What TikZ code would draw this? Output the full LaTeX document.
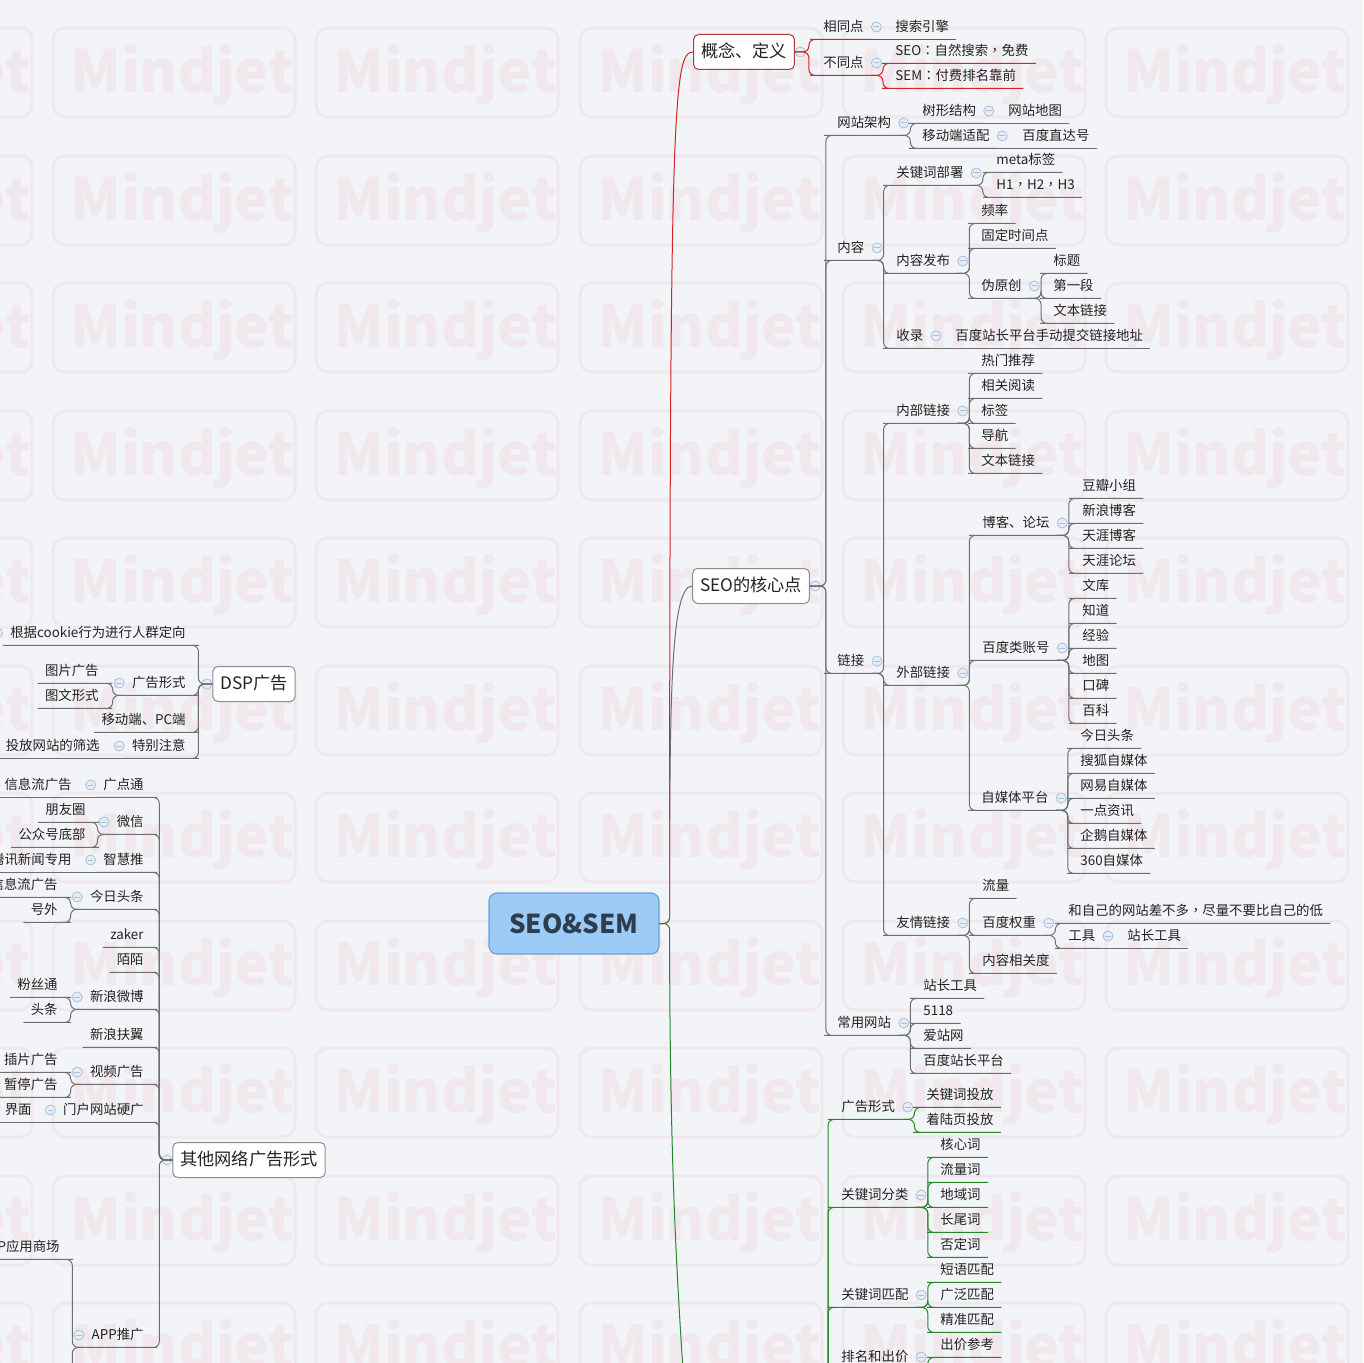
\documentclass[tikz,border=0pt]{standalone}
\usepackage{fontspec}
\setmainfont{Noto Sans CJK SC}
\newfontfamily\tcpunct{Noto Sans CJK TC}
\definecolor{bgc}{HTML}{F3F4F7}
\definecolor{wmc}{HTML}{F0E8EC}
\definecolor{txtc}{HTML}{222222}
\definecolor{linec}{HTML}{6F6F6F}
\definecolor{redc}{HTML}{D42424}
\definecolor{greenc}{HTML}{23882A}
\definecolor{boxc}{HTML}{8E8E8E}
\definecolor{kzc}{HTML}{A83A3A}
\definecolor{foldc}{HTML}{A9BFD8}
\definecolor{foldf}{HTML}{E6EDF6}
\definecolor{rootf}{HTML}{9CCBF6}
\definecolor{rootb}{HTML}{6E9FD2}
\definecolor{roott}{HTML}{2D3E4E}
\newcommand\tpfont{\fontsize{6.7}{8}\selectfont}
\newcommand\boxfont{\fontsize{8.6}{10}\selectfont}
\newcommand\cm{{\tcpunct ，}}
\newcommand\cl{{\tcpunct ：}}

\begin{document}
\begin{tikzpicture}[
  x=0.5pt, y=-0.5pt,
  tp/.style={font=\tpfont, text=txtc, inner xsep=3.5pt, inner ysep=0pt, minimum height=12pt, text height=5.4pt, text depth=1.2pt},
  fold/.style={circle, draw=foldc, fill=foldf, line width=0.4pt, inner sep=0pt, minimum size=5pt,
    path picture={\draw[foldc, line width=0.5pt] ([xshift=1.1pt]path picture bounding box.west) -- ([xshift=-1.1pt]path picture bounding box.east);}},
  hub/.style={tp, label={[fold]east:{}}},
  hubL/.style={tp, label={[fold]west:{}}},
  box/.style={draw=boxc, fill=white, rounded corners=2.5pt, line width=0.5pt, font=\boxfont, text=txtc, inner xsep=3.7pt, minimum height=17.5pt, text height=6.8pt, text depth=1.6pt},
  boxR/.style={box, label={[fold]east:{}}},
  boxL/.style={box, label={[fold]west:{}}},
  root/.style={draw=rootb, fill=rootf, rounded corners=4pt, line width=0.6pt, minimum width=85pt, minimum height=30.5pt, font=\fontsize{13}{15}\selectfont\bfseries, text=roott},
  gr/.style={draw=linec, line width=0.5pt, rounded corners=3pt},
  rd/.style={gr, draw=redc},
  gn/.style={gr, draw=greenc},
  wm/.style={draw=wmc, line width=1.5pt},
  wmtext/.style={text=wmc, font=\fontsize{29}{30}\selectfont\bfseries, inner sep=0pt}
]
\useasboundingbox (0,0) rectangle (1363,1363);
\clip (0,0) rectangle (1363,1363);
\fill[bgc] (0,0) rectangle (1363,1363);

% watermark tiles
\foreach \cx [count=\i] in {-193,70,333,597,860,1123}
  \foreach \cy [count=\j] in {75,203,330,458,585,713,840,968,1095,1223,1350} {
    \draw[wm, rounded corners=6pt] (\cx-17,\cy-47) rectangle (\cx+225,\cy+42);
    \node[wmtext, anchor=west] (wm\i-\j) at (\cx,\cy) {Mindjet};
  }

% centre
\node[root] (root) at (574,923.5) {SEO\&SEM};
\coordinate (sem) at (688,1480);
\coordinate (semhub) at (812,1480);

% concept branch
\node[boxR, draw=kzc] (kz) at (744,52) {概念、定义};
\node[hub, anchor=west] (xtd) at (816,27) {相同点};
\node[tp, anchor=west] (ssyq) at (888,27) {搜索引擎};
\node[hub, anchor=west] (btd) at (816,63) {不同点};
\node[tp, anchor=west] (zrss) at (888,51) {SEO\cl 自然搜索\cm 免费};
\node[tp, anchor=west] (ffpm) at (888,76) {SEM\cl 付费排名靠前};

% SEO core branch
\node[boxR] (hx) at (751,586) {SEO的核心点};
\node[hub, anchor=west] (wzjg) at (830,123) {网站架构};
\node[hub, anchor=west] (sxjg) at (915,111) {树形结构};
\node[tp, anchor=west] (wzdt) at (1001,111) {网站地图};
\node[hub, anchor=west] (yddsp) at (915,136) {移动端适配};
\node[tp, anchor=west] (zdh) at (1015,136) {百度直达号};
\node[hub, anchor=west] (nr) at (830,248) {内容};
\node[hub, anchor=west] (gjcbs) at (889,173) {关键词部署};
\node[tp, anchor=west] (meta) at (989,160) {meta标签};
\node[tp, anchor=west] (hhh) at (989,185) {H1\cm H2\cm H3};
\node[hub, anchor=west] (nrfb) at (889,261) {内容发布};
\node[tp, anchor=west] (pl) at (974,211) {频率};
\node[tp, anchor=west] (gdsj) at (974,236) {固定时间点};
\node[hub, anchor=west] (wyc) at (974,286) {伪原创};
\node[tp, anchor=west] (bt) at (1046,261) {标题};
\node[tp, anchor=west] (dyd) at (1046,286) {第一段};
\node[tp, anchor=west] (wblja) at (1046,311) {文本链接};
\node[hub, anchor=west] (sl) at (889,336) {收录};
\node[tp, anchor=west] (sdtj) at (948,336) {百度站长平台手动提交链接地址};
\node[hub, anchor=west] (lj) at (830,661) {链接};
\node[hub, anchor=west] (nblj) at (889,411) {内部链接};
\node[tp, anchor=west] (rmtj) at (974,361) {热门推荐};
\node[tp, anchor=west] (xgyd) at (974,386) {相关阅读};
\node[tp, anchor=west] (bq) at (974,411) {标签};
\node[tp, anchor=west] (dh) at (974,436) {导航};
\node[tp, anchor=west] (wbljb) at (974,461) {文本链接};
\node[hub, anchor=west] (wblj) at (889,673) {外部链接};
\node[hub, anchor=west] (bklt) at (975,523) {博客、论坛};
\node[tp, anchor=west] (dbxz) at (1075,486) {豆瓣小组};
\node[tp, anchor=west] (xlbk) at (1075,511) {新浪博客};
\node[tp, anchor=west] (tybk) at (1075,536) {天涯博客};
\node[tp, anchor=west] (tylt) at (1075,561) {天涯论坛};
\node[hub, anchor=west] (bdzh) at (975,648) {百度类账号};
\node[tp, anchor=west] (wk) at (1075,586) {文库};
\node[tp, anchor=west] (zd) at (1075,611) {知道};
\node[tp, anchor=west] (jy) at (1075,636) {经验};
\node[tp, anchor=west] (dt) at (1075,661) {地图};
\node[tp, anchor=west] (kb) at (1075,686) {口碑};
\node[tp, anchor=west] (bk) at (1075,711) {百科};
\node[hub, anchor=west] (zmt) at (974,798) {自媒体平台};
\node[tp, anchor=west] (jrtt) at (1073,736) {今日头条};
\node[tp, anchor=west] (shzm) at (1073,761) {搜狐自媒体};
\node[tp, anchor=west] (wyzm) at (1073,786) {网易自媒体};
\node[tp, anchor=west] (ydzx) at (1073,811) {一点资讯};
\node[tp, anchor=west] (qezm) at (1073,836) {企鹅自媒体};
\node[tp, anchor=west] (zm360) at (1073,861) {360自媒体};
\node[hub, anchor=west] (yqlj) at (889,923) {友情链接};
\node[tp, anchor=west] (ll) at (975,886) {流量};
\node[hub, anchor=west] (bdqz) at (975,923) {百度权重};
\node[tp, anchor=west] (cbd) at (1061,911) {和自己的网站差不多\cm 尽量不要比自己的低};
\node[hub, anchor=west] (gj) at (1061,936) {工具};
\node[tp, anchor=west] (zzgja) at (1120,936) {站长工具};
\node[tp, anchor=west] (nrxg) at (975,961) {内容相关度};
\node[hub, anchor=west] (cywz) at (830,1023) {常用网站};
\node[tp, anchor=west] (zzgjb) at (916,986) {站长工具};
\node[tp, anchor=west] (w5118) at (916,1011) {5118};
\node[tp, anchor=west] (azw) at (916,1036) {爱站网};
\node[tp, anchor=west] (zzpt) at (916,1061) {百度站长平台};

% SEM branch
\node[hub, anchor=west] (ggxs) at (834,1107) {广告形式};
\node[tp, anchor=west] (gjctf) at (919,1095) {关键词投放};
\node[tp, anchor=west] (zlytf) at (919,1120) {着陆页投放};
\node[hub, anchor=west] (gjcfl) at (834,1195) {关键词分类};
\node[tp, anchor=west] (hxc) at (933,1145) {核心词};
\node[tp, anchor=west] (llc) at (933,1170) {流量词};
\node[tp, anchor=west] (dyc) at (933,1195) {地域词};
\node[tp, anchor=west] (cwc) at (933,1220) {长尾词};
\node[tp, anchor=west] (fdc) at (933,1245) {否定词};
\node[hub, anchor=west] (gjcpp) at (834,1295) {关键词匹配};
\node[tp, anchor=west] (dypp) at (933,1270) {短语匹配};
\node[tp, anchor=west] (gfpp) at (933,1295) {广泛匹配};
\node[tp, anchor=west] (jzpp) at (933,1320) {精准匹配};
\node[hub, anchor=west] (pmcj) at (834,1357) {排名和出价};
\node[tp, anchor=west] (cjck) at (933,1345) {出价参考};

% DSP branch
\node[boxL] (dsp) at (254,684) {DSP广告};
\node[hubL, anchor=east] (cookie) at (193,633) {根据cookie行为进行人群定向};
\node[hubL, anchor=east] (ggxsl) at (193,683) {广告形式};
\node[tp, anchor=east] (tpgg) at (106,671) {图片广告};
\node[tp, anchor=east] (twxs) at (106,696) {图文形式};
\node[tp, anchor=east] (ydpc) at (193,720) {移动端、PC端};
\node[hubL, anchor=east] (tbzy) at (193,746) {特别注意};
\node[tp, anchor=east] (tfsx) at (107,746) {投放网站的筛选};

% other ads branch
\node[boxL] (qt) at (249,1160) {其他网络广告形式};
\node[hubL, anchor=east] (gdt) at (151,785) {广点通};
\node[tp, anchor=east] (xxlg) at (79,785) {信息流广告};
\node[hubL, anchor=east] (wx) at (151,822) {微信};
\node[tp, anchor=east] (pyq) at (93,810) {朋友圈};
\node[tp, anchor=east] (gzh) at (93,835) {公众号底部};
\node[hubL, anchor=east] (zht) at (151,860) {智慧推};
\node[tp, anchor=east] (txxw) at (79,860) {腾讯新闻专用};
\node[hubL, anchor=east] (jrtl) at (151,897) {今日头条};
\node[tp, anchor=east] (xxlgb) at (65,885) {信息流广告};
\node[tp, anchor=east] (hw) at (65,910) {号外};
\node[tp, anchor=east] (zaker) at (151,935) {zaker};
\node[tp, anchor=east] (mm) at (151,960) {陌陌};
\node[hubL, anchor=east] (xlwb) at (151,997) {新浪微博};
\node[tp, anchor=east] (fst) at (65,985) {粉丝通};
\node[tp, anchor=east] (tt) at (65,1010) {头条};
\node[tp, anchor=east] (xlfy) at (151,1035) {新浪扶翼};
\node[hubL, anchor=east] (spgg) at (151,1072) {视频广告};
\node[tp, anchor=east] (cpgg) at (65,1060) {插片广告};
\node[tp, anchor=east] (ztgg) at (65,1085) {暂停广告};
\node[hubL, anchor=east] (mhyg) at (151,1110) {门户网站硬广};
\node[tp, anchor=east] (jm) at (39,1110) {界面};
\node[hubL, anchor=east] (apptg) at (151,1335) {APP推广};
\node[tp, anchor=east] (yysc) at (67,1247) {APP应用商场};
\coordinate (appnext) at (67,1440);

% main lines
\draw[rd] (root.east) -- ++(10,0) .. controls +(0,-820) and +(-20,0) .. (kz.west);
\draw[gr] (root.east) -- ++(10,0) .. controls +(0,-220) and +(-22,0) .. (hx.west);
\draw[gn] (root.east) -- ++(10,0) .. controls +(0,350) and +(-2,-120) .. (sem);

% concept
\foreach \kid in {xtd,btd} \draw[rd] (kz.east) -- ++(14,0) |- (\kid.south west) -- (\kid.south east);
\draw[rd] (xtd.south east) -- (ssyq.south east);
\foreach \kid in {zrss,ffpm} \draw[rd] (btd.south east) -- ++(12,0) |- (\kid.south west) -- (\kid.south east);

% SEO core
\foreach \kid in {wzjg,nr,lj,cywz} \draw[gr] (hx.east) -- ++(16,0) |- (\kid.south west) -- (\kid.south east);
\foreach \kid in {sxjg,yddsp} \draw[gr] (wzjg.south east) -- ++(12,0) |- (\kid.south west) -- (\kid.south east);
\draw[gr] (sxjg.south east) -- (wzdt.south east);
\draw[gr] (yddsp.south east) -- (zdh.south east);
\foreach \kid in {gjcbs,nrfb,sl} \draw[gr] (nr.south east) -- ++(12,0) |- (\kid.south west) -- (\kid.south east);
\foreach \kid in {meta,hhh} \draw[gr] (gjcbs.south east) -- ++(12,0) |- (\kid.south west) -- (\kid.south east);
\foreach \kid in {pl,gdsj,wyc} \draw[gr] (nrfb.south east) -- ++(12,0) |- (\kid.south west) -- (\kid.south east);
\foreach \kid in {bt,dyd,wblja} \draw[gr] (wyc.south east) -- ++(12,0) |- (\kid.south west) -- (\kid.south east);
\draw[gr] (sl.south east) -- (sdtj.south east);
\foreach \kid in {nblj,wblj,yqlj} \draw[gr] (lj.south east) -- ++(12,0) |- (\kid.south west) -- (\kid.south east);
\foreach \kid in {rmtj,xgyd,bq,dh,wbljb} \draw[gr] (nblj.south east) -- ++(12,0) |- (\kid.south west) -- (\kid.south east);
\foreach \kid in {bklt,bdzh,zmt} \draw[gr] (wblj.south east) -- ++(12,0) |- (\kid.south west) -- (\kid.south east);
\foreach \kid in {dbxz,xlbk,tybk,tylt} \draw[gr] (bklt.south east) -- ++(12,0) |- (\kid.south west) -- (\kid.south east);
\foreach \kid in {wk,zd,jy,dt,kb,bk} \draw[gr] (bdzh.south east) -- ++(12,0) |- (\kid.south west) -- (\kid.south east);
\foreach \kid in {jrtt,shzm,wyzm,ydzx,qezm,zm360} \draw[gr] (zmt.south east) -- ++(12,0) |- (\kid.south west) -- (\kid.south east);
\foreach \kid in {ll,bdqz,nrxg} \draw[gr] (yqlj.south east) -- ++(12,0) |- (\kid.south west) -- (\kid.south east);
\foreach \kid in {cbd,gj} \draw[gr] (bdqz.south east) -- ++(12,0) |- (\kid.south west) -- (\kid.south east);
\draw[gr] (gj.south east) -- (zzgja.south east);
\foreach \kid in {zzgjb,w5118,azw,zzpt} \draw[gr] (cywz.south east) -- ++(12,0) |- (\kid.south west) -- (\kid.south east);

% SEM
\foreach \kid in {ggxs,gjcfl,gjcpp,pmcj} \draw[gn] (semhub) -- ++(16,0) |- (\kid.south west) -- (\kid.south east);
\foreach \kid in {gjctf,zlytf} \draw[gn] (ggxs.south east) -- ++(12,0) |- (\kid.south west) -- (\kid.south east);
\foreach \kid in {hxc,llc,dyc,cwc,fdc} \draw[gn] (gjcfl.south east) -- ++(12,0) |- (\kid.south west) -- (\kid.south east);
\foreach \kid in {dypp,gfpp,jzpp} \draw[gn] (gjcpp.south east) -- ++(12,0) |- (\kid.south west) -- (\kid.south east);
\draw[gn] (pmcj.south east) -- ++(12,0) |- (cjck.south west) -- (cjck.south east);

% DSP
\foreach \kid in {cookie,ggxsl,ydpc,tbzy} \draw[gr] (dsp.west) -- ++(-14,0) |- (\kid.south east) -- (\kid.south west);
\foreach \kid in {tpgg,twxs} \draw[gr] (ggxsl.south west) -- ++(-12,0) |- (\kid.south east) -- (\kid.south west);
\draw[gr] (tbzy.south west) -- (tfsx.south west);

% other ads
\foreach \kid in {gdt,wx,zht,jrtl,zaker,mm,xlwb,xlfy,spgg,mhyg,apptg} \draw[gr] (qt.west) -- ++(-13,0) |- (\kid.south east) -- (\kid.south west);
\draw[gr] (gdt.south west) -- (xxlg.south west);
\foreach \kid in {pyq,gzh} \draw[gr] (wx.south west) -- ++(-12,0) |- (\kid.south east) -- (\kid.south west);
\draw[gr] (zht.south west) -- (txxw.south west);
\foreach \kid in {xxlgb,hw} \draw[gr] (jrtl.south west) -- ++(-12,0) |- (\kid.south east) -- (\kid.south west);
\foreach \kid in {fst,tt} \draw[gr] (xlwb.south west) -- ++(-12,0) |- (\kid.south east) -- (\kid.south west);
\foreach \kid in {cpgg,ztgg} \draw[gr] (spgg.south west) -- ++(-12,0) |- (\kid.south east) -- (\kid.south west);
\draw[gr] (mhyg.south west) -- (jm.south west);
\draw[gr] (apptg.south west) -- ++(-12,0) |- (yysc.south east) -- (yysc.south west);
\draw[gr] (apptg.south west) -- ++(-12,0) |- (appnext);
\end{tikzpicture}
\end{document}
